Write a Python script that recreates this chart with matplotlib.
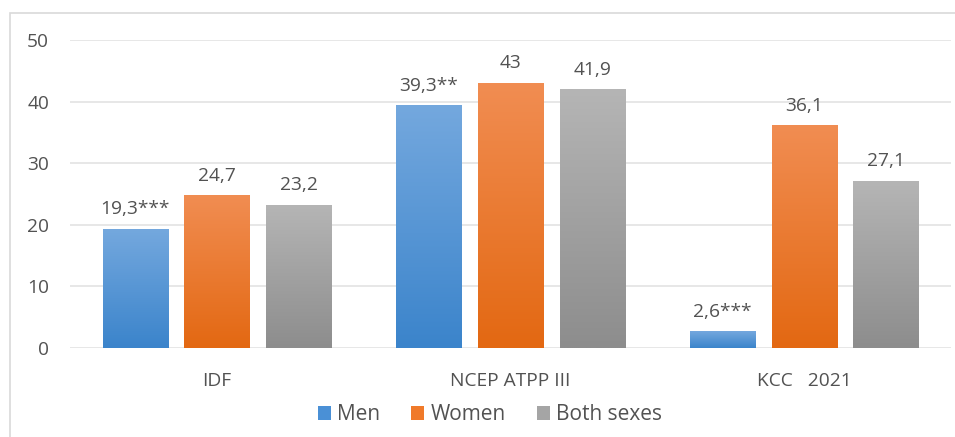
import matplotlib
matplotlib.use("Agg")
import matplotlib.pyplot as plt
import numpy as np
from matplotlib.colors import LinearSegmentedColormap
from matplotlib.patches import Patch, Rectangle

plt.rcParams["font.family"] = ["Open Sans", "DejaVu Sans"]

categories = ["IDF", "NCEP ATPP III", "KCC   2021"]
series_names = ["Men", "Women", "Both sexes"]
men = [19.3, 39.3, 2.6]
women = [24.7, 43.0, 36.1]
both = [23.2, 41.9, 27.1]
men_labels = ["19,3***", "39,3**", "2,6***"]
women_labels = ["24,7", "43", "36,1"]
both_labels = ["23,2", "41,9", "27,1"]
y_ticks = [0, 10, 20, 30, 40, 50]

# top / bottom colours of each series gradient, plus flat legend colour
grad_colors = [("#74a8de", "#3b84cb"), ("#f18d52", "#e36812"), ("#b5b5b5", "#8d8d8d")]
legend_colors = ["#4a90d6", "#f07a2a", "#a5a5a5"]
text_color = "#525252"

fig = plt.figure(figsize=(9.55, 4.37), dpi=100)
W, H = 955, 437

# light outer frame of the chart area
fig.add_artist(Rectangle((10 / W, -0.1), 1.2, (H - 13) / H + 0.1, transform=fig.transFigure,
                         fill=False, edgecolor="#d9d9d9", linewidth=1.2))

ax = fig.add_axes([70 / W, (H - 348) / H, (951 - 70) / W, (348 - 40) / H])

bar_w = 0.222
step = 0.278
x = np.arange(len(categories)) + 0.5
all_values = [men, women, both]
all_labels = [men_labels, women_labels, both_labels]

grad = np.linspace(1, 0, 256).reshape(-1, 1)
for i, (vals, labels) in enumerate(zip(all_values, all_labels)):
    cmap = LinearSegmentedColormap.from_list("g%d" % i, [grad_colors[i][1], grad_colors[i][0]])
    for xc, v, lab in zip(x + (i - 1) * step, vals, labels):
        x0 = xc - bar_w / 2
        ax.imshow(grad, extent=[x0, x0 + bar_w, 0, v], aspect="auto", cmap=cmap,
                  vmin=0, vmax=1, zorder=2, interpolation="bilinear")
        ax.annotate(lab, (xc, v), xytext=(0, 8), textcoords="offset points",
                    ha="center", va="bottom", fontsize=13.8, color=text_color)

ax.set_xlim(0, 3)
ax.set_ylim(0, 50)
ax.set_yticks(y_ticks)
ax.set_yticklabels([str(t) for t in y_ticks])
ax.set_xticks(x)
ax.set_xticklabels(categories)
ax.tick_params(axis="both", length=0, labelsize=13.8, colors=text_color)
ax.tick_params(axis="y", pad=15)
ax.tick_params(axis="x", pad=17)
ax.grid(axis="y", color="#e3e3e3", linewidth=1.2, zorder=0)
ax.set_axisbelow(True)
for s in ax.spines.values():
    s.set_visible(False)

handles = [Patch(facecolor=c, edgecolor="none") for c in legend_colors]
fig.legend(handles, series_names, loc="center", bbox_to_anchor=(490 / W, (H - 415) / H), ncol=3,
           frameon=False, fontsize=15, labelcolor=text_color, handlelength=0.62,
           handleheight=0.62, handletextpad=0.3, columnspacing=1.5)

fig.savefig("out.png", dpi=100)
